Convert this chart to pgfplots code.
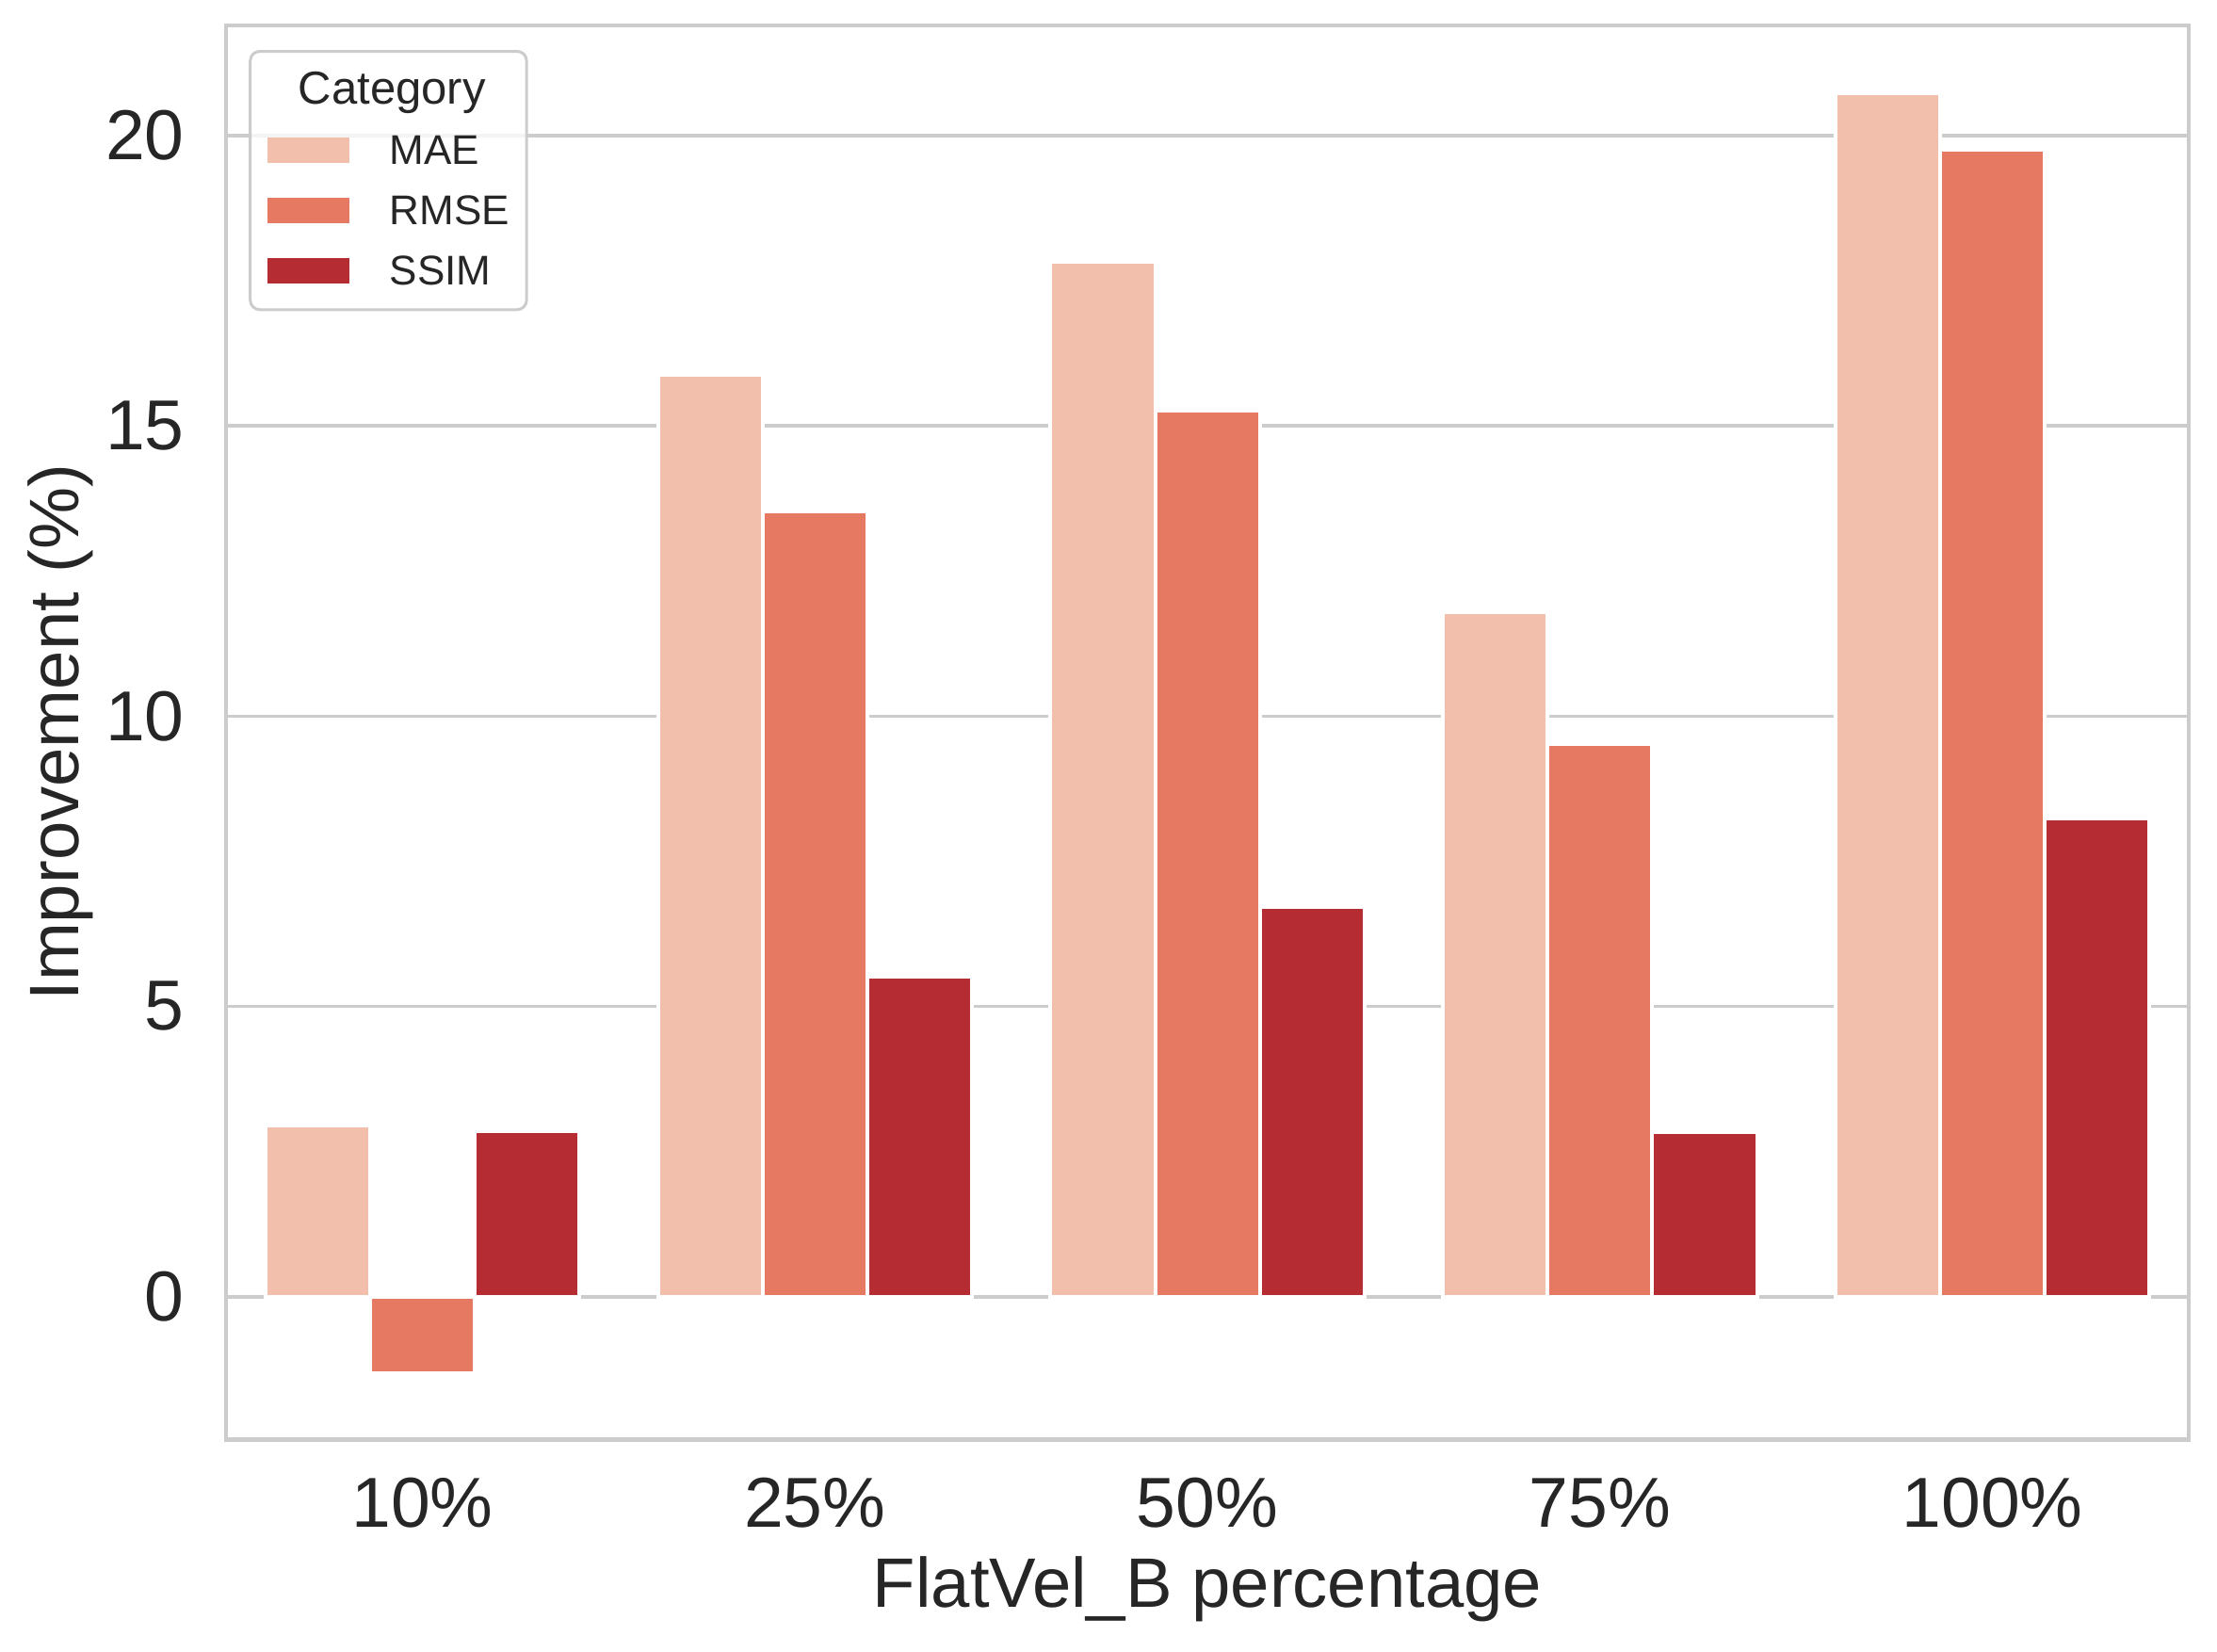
\documentclass[border=0pt]{standalone}
\usepackage{pgfplots}
\pgfplotsset{compat=1.18}
\usepackage{fontspec}
\setmainfont{Liberation Sans}
\definecolor{cMAE}{RGB}{241,191,171}
\definecolor{cRMSE}{RGB}{230,121,98}
\definecolor{cSSIM}{RGB}{181,45,51}
\definecolor{gridc}{RGB}{204,204,204}
\definecolor{txt}{RGB}{38,38,38}
\begin{document}
\begin{tikzpicture}
\begin{axis}[
  name=ax,
  scale only axis, width=416.4pt, height=300pt,
  xmin=-0.5, xmax=4.5, ymin=-2.46, ymax=21.9,
  ybar, bar width=0.2667,
  xtick={0,1,2,3,4}, xticklabels={10\%,25\%,50\%,75\%,100\%},
  ytick={0,5,10,15,20},
  ymajorgrids, grid style={gridc, line width=0.75pt},
  axis line style={gridc, line width=0.9pt},
  major tick length=0pt, tick style={draw=none},
  ticklabel style={font=\fontsize{15}{18}\selectfont, text=txt, inner sep=0pt},
  xticklabel style={anchor=base, yshift=-18.6pt},
  yticklabel style={anchor=east, xshift=-8.7pt},
  /pgf/number format/assume math mode=true,
  xlabel={FlatVel\_B percentage},
  ylabel={Improvement (\%)},
  every axis x label/.style={at={(rel axis cs:0.5,0)}, anchor=base, yshift=-35.7pt, inner sep=0pt, font=\fontsize{14.85}{18}\selectfont, text=txt},
  every axis y label/.style={at={(rel axis cs:0,0.5)}, xshift=-35.25pt, rotate=90, anchor=center, font=\fontsize{14.85}{18}\selectfont, text=txt},
  legend cell align=left,
  legend style={at={(rel axis cs:0,1)}, anchor=north west, xshift=4.8pt, yshift=-5.2pt,
    draw=gridc, line width=0.6pt, rounded corners=2pt, fill=white, fill opacity=0.8, text opacity=1,
    font=\fontsize{8.8}{10}\selectfont, text=txt, inner xsep=3.6pt, inner ysep=1.8pt, row sep=0pt,
    nodes={inner sep=0pt, text height=9.45pt, text depth=3.35pt}},
  legend image code/.code={\fill[#1, draw=none, sharp corners, fill opacity=1] (0pt,-2.7pt) rectangle (17.4pt,2.7pt); \path[draw=none, fill=none] (0pt,0pt) -- (26pt,0pt);},
]
\addlegendimage{empty legend}
\addlegendentry{\makebox[0pt][c]{\fontsize{9.8}{11}\selectfont Category}}
\addplot[fill=cMAE, draw=white, line width=0.8pt, bar shift=-0.2667] coordinates {(0,2.95) (1,15.88) (2,17.83) (3,11.79) (4,20.73)};
\addlegendentry{MAE}
\addplot[fill=cRMSE, draw=white, line width=0.8pt, bar shift=0] coordinates {(0,-1.32) (1,13.52) (2,15.27) (3,9.52) (4,19.76)};
\addlegendentry{RMSE}
\addplot[fill=cSSIM, draw=white, line width=0.8pt, bar shift=0.2667] coordinates {(0,2.85) (1,5.51) (2,6.72) (3,2.83) (4,8.23)};
\addlegendentry{SSIM}
\end{axis}
\path ([xshift=-48pt,yshift=-45pt]ax.south west) rectangle ([xshift=6pt,yshift=5.4pt]ax.north east);
\end{tikzpicture}
\end{document}
